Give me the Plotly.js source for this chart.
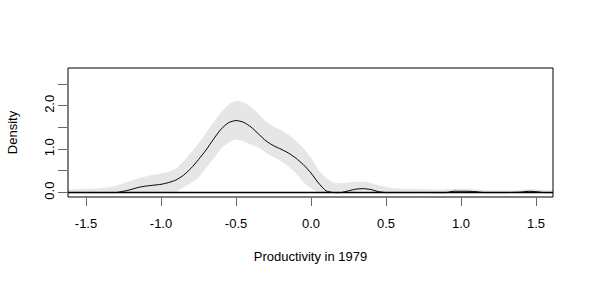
<!DOCTYPE html>
<html>
<head>
<meta charset="utf-8">
<script src="https://cdn.plot.ly/plotly-3.0.1.min.js"></script>
<style>html,body{margin:0;padding:0;background:#fff;}#chart{width:589px;height:283px;}</style>
</head>
<body>
<div id="chart"></div>
<script>
const productivity = [-1.62,-1.55,-1.5,-1.45,-1.4,-1.35,-1.3,-1.25,-1.2,-1.15,-1.1,-1.05,-1.0,-0.95,-0.9,-0.85,-0.8,-0.75,-0.7,-0.65,-0.6,-0.55,-0.5,-0.45,-0.4,-0.35,-0.3,-0.25,-0.2,-0.15,-0.1,-0.05,0,0.05,0.1,0.15,0.2,0.25,0.3,0.35,0.4,0.45,0.5,0.55,0.6,0.7,0.8,0.9,0.95,1.0,1.05,1.1,1.15,1.2,1.3,1.4,1.45,1.5,1.55,1.61];
const density = [0,0,0,0,0,0,0,0.03,0.07,0.12,0.15,0.17,0.19,0.23,0.29,0.40,0.56,0.76,0.98,1.23,1.46,1.61,1.66,1.62,1.51,1.35,1.19,1.08,1.0,0.91,0.79,0.64,0.45,0.22,0.04,0,0,0.04,0.08,0.09,0.07,0.02,0,0,0,0,0,0,0.03,0.03,0.03,0.02,0,0,0,0.01,0.03,0.02,0,0];
const upperBand = [0.07,0.08,0.09,0.09,0.10,0.12,0.16,0.21,0.27,0.33,0.37,0.41,0.44,0.48,0.55,0.72,0.92,1.13,1.37,1.62,1.85,2.03,2.11,2.08,1.97,1.81,1.63,1.52,1.44,1.33,1.19,1.02,0.80,0.52,0.34,0.23,0.21,0.23,0.25,0.25,0.22,0.17,0.13,0.10,0.09,0.08,0.07,0.07,0.08,0.09,0.09,0.07,0.06,0.05,0.05,0.06,0.07,0.07,0.06,0.05];
const lowerBand = [0,0,0,0,0,0,0,0,0,0,0,0,0,0,0.01,0.12,0.22,0.34,0.57,0.78,1.01,1.15,1.22,1.18,1.10,1.04,0.92,0.82,0.73,0.60,0.44,0.24,0.10,0,0,0,0,0,0.02,0.04,0.02,0,0,0,0,0,0,0,0,0,0,0,0,0,0,0,0,0,0,0];
const xTicks = [-1.5,-1.0,-0.5,0.0,0.5,1.0,1.5];
const xTickLabels = ["-1.5","-1.0","-0.5","0.0","0.5","1.0","1.5"];
const yTicks = [0,0.5,1,1.5,2,2.5];
const yTickLabels = ["0.0","","1.0","","2.0",""];

const traces = [
  {x: productivity, y: lowerBand, type: 'scatter', mode: 'lines', line: {width: 0, color: 'rgba(0,0,0,0)', shape: 'spline', smoothing: 0.5}, hoverinfo: 'skip', showlegend: false},
  {x: productivity, y: upperBand, type: 'scatter', mode: 'lines', fill: 'tonexty', fillcolor: '#e6e6e6', line: {width: 0, color: 'rgba(0,0,0,0)', shape: 'spline', smoothing: 0.5}, hoverinfo: 'skip', showlegend: false},
  {x: productivity, y: density, type: 'scatter', mode: 'lines', line: {color: '#000', width: 1, shape: 'spline', smoothing: 0.6}, showlegend: false}
];
const font = {family: 'Liberation Sans, Arial, sans-serif', size: 13, color: '#000'};
const layout = {
  width: 589, height: 283,
  margin: {l: 68, r: 36, t: 68, b: 86},
  paper_bgcolor: '#fff', plot_bgcolor: '#fff',
  font: font,
  showlegend: false,
  xaxis: {
    range: [-1.62, 1.613], tickvals: xTicks, ticktext: xTickLabels,
    ticks: 'outside', ticklen: 8, tickcolor: '#666', tickwidth: 1,
    ticklabelstandoff: 6,
    showgrid: false, zeroline: false, showline: false,
    tickfont: font,
    title: {text: 'Productivity in 1979', font: font, standoff: 22}
  },
  yaxis: {
    range: [-0.102, 2.87], tickvals: yTicks, ticktext: yTickLabels,
    ticks: 'outside', ticklen: 9, tickcolor: '#666', tickwidth: 1, tickangle: -90,
    ticklabelstandoff: -1,
    showgrid: false, zeroline: false, showline: false,
    tickfont: font,
    title: {text: 'Density', font: font, standoff: 21}
  },
  shapes: [
    {type: 'rect', xref: 'paper', yref: 'paper', x0: 0, x1: 1, y0: 0, y1: 1, line: {color: '#000', width: 1}},
    {type: 'line', xref: 'paper', yref: 'y', x0: 0, x1: 1, y0: 0, y1: 0, line: {color: '#000', width: 1.5}}
  ]
};
Plotly.newPlot('chart', traces, layout, {displayModeBar: false, staticPlot: true});
</script>
</body>
</html>
